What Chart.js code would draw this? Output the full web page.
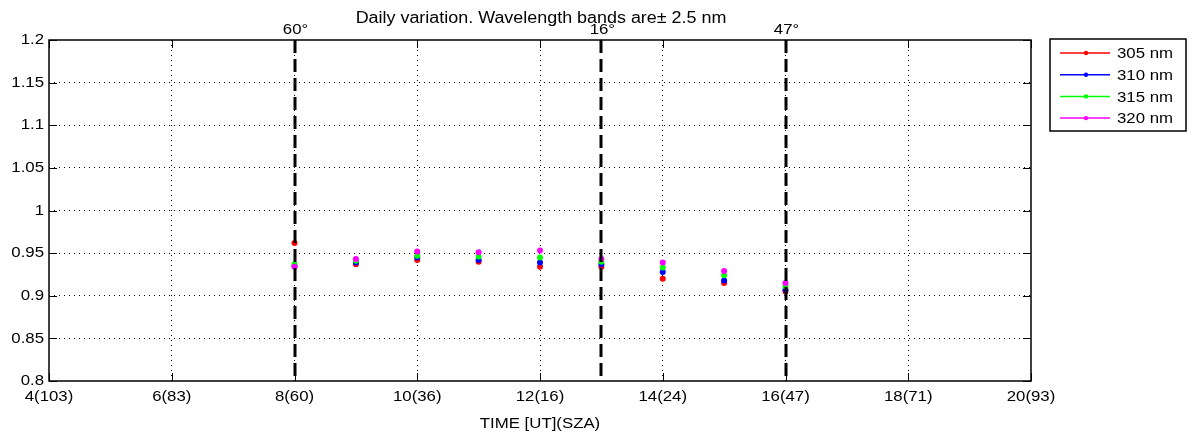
<!DOCTYPE html>
<html>
<head>
<meta charset="utf-8">
<script src="https://cdn.jsdelivr.net/npm/chart.js@4"></script>
<style>
  html, body { margin: 0; padding: 0; background: #fff; }
  #wrap { width: 1192px; height: 432px; }
</style>
</head>
<body>
<div id="wrap"><canvas id="myChart" width="1192" height="432"></canvas></div>
<script>
// hourly measurements, UT
const hours = [8, 9, 10, 11, 12, 13, 14, 15, 16]
const r305 = [0.962, 0.937, 0.942, 0.940, 0.934, 0.934, 0.920, 0.915, 0.905]
const r310 = [0.935, 0.939, 0.945, 0.942, 0.939, 0.937, 0.928, 0.918, 0.907]
const r315 = [0.937, 0.941, 0.947, 0.946, 0.945, 0.940, 0.933, 0.924, 0.911]
const r320 = [0.934, 0.943, 0.952, 0.951, 0.953, 0.943, 0.939, 0.929, 0.915]

const xTicks = [4, 6, 8, 10, 12, 14, 16, 18, 20]
const xTickLabels = ['4(103)', '6(83)', '8(60)', '10(36)', '12(16)', '14(24)', '16(47)', '18(71)', '20(93)']
const yTicks = [0.8, 0.85, 0.9, 0.95, 1, 1.05, 1.1, 1.15, 1.2]
const yTickLabels = ['0.8', '0.85', '0.9', '0.95', '1', '1.05', '1.1', '1.15', '1.2']

// dashed markers with solar zenith angle
const markHours = [8, 13, 16]
const markLabels = ['60°', '16°', '47°']

const seriesNames = ['305 nm', '310 nm', '315 nm', '320 nm']
const seriesColors = ['#ff0000', '#0000ff', '#00ff00', '#ff00ff']
const seriesValues = [r305, r310, r315, r320]

const FONT = 'Liberation Sans, Arial, Helvetica, sans-serif'
const SX = 1.12 // text in the original is a bit wide

function txt(ctx, s, x, y, align, base) {
  ctx.save()
  ctx.translate(x, y)
  ctx.scale(SX, 1)
  ctx.textAlign = align
  ctx.textBaseline = base
  ctx.fillText(s, 0, 0)
  ctx.restore()
}

// matlab style frame, inward ticks, markers, labels, legend
const matlabPlugin = {
  id: 'matlab',
  afterDatasetsDraw(chart) {
    const ctx = chart.ctx
    const a = chart.chartArea
    const xs = chart.scales.x, ys = chart.scales.y
    ctx.save()

    // dashed vertical markers
    ctx.strokeStyle = '#000'
    ctx.lineWidth = 3
    ctx.setLineDash([13, 6])
    markHours.forEach((h) => {
      const px = Math.round(xs.getPixelForValue(h))
      ctx.beginPath()
      ctx.moveTo(px, a.top)
      ctx.lineTo(px, a.bottom)
      ctx.stroke()
    })
    ctx.setLineDash([])

    // frame
    ctx.lineWidth = 1.5
    ctx.strokeRect(a.left, a.top, a.right - a.left, a.bottom - a.top)

    // inward ticks
    ctx.lineWidth = 1
    const tl = 8
    xTicks.forEach((v) => {
      const px = Math.round(xs.getPixelForValue(v)) + 0.5
      ctx.beginPath()
      ctx.moveTo(px, a.bottom); ctx.lineTo(px, a.bottom - tl)
      ctx.moveTo(px, a.top); ctx.lineTo(px, a.top + tl)
      ctx.stroke()
    })
    yTicks.forEach((v) => {
      const py = Math.round(ys.getPixelForValue(v)) + 0.5
      ctx.beginPath()
      ctx.moveTo(a.left, py); ctx.lineTo(a.left + tl, py)
      ctx.moveTo(a.right, py); ctx.lineTo(a.right - tl, py)
      ctx.stroke()
    })

    // tick labels
    ctx.fillStyle = '#000'
    ctx.font = '15px ' + FONT
    xTicks.forEach((v, i) => txt(ctx, xTickLabels[i], xs.getPixelForValue(v), a.bottom + 8, 'center', 'top'))
    yTicks.forEach((v, i) => txt(ctx, yTickLabels[i], a.left - 5, ys.getPixelForValue(v), 'right', 'middle'))

    // marker labels, title, axis title
    markHours.forEach((h, i) => txt(ctx, markLabels[i], xs.getPixelForValue(h) + 1, a.top - 6, 'center', 'alphabetic'))
    const cx = (a.left + a.right) / 2
    ctx.font = '16px ' + FONT
    txt(ctx, 'Daily variation. Wavelength bands are\u00b1 2.5 nm', cx + 1, 23, 'center', 'alphabetic')
    ctx.font = '15px ' + FONT
    txt(ctx, 'TIME [UT](SZA)', cx, 428, 'center', 'alphabetic')

    // legend
    const lx = 1050, ly = 39, lw = 136, lh = 92
    ctx.fillStyle = '#fff'
    ctx.fillRect(lx, ly, lw, lh)
    ctx.strokeStyle = '#000'
    ctx.lineWidth = 1.5
    ctx.strokeRect(lx, ly, lw, lh)
    ctx.font = '15px ' + FONT
    seriesNames.forEach((name, i) => {
      const yy = ly + 14 + i * 21.7
      ctx.strokeStyle = seriesColors[i]
      ctx.lineWidth = 1.5
      ctx.beginPath()
      ctx.moveTo(lx + 10, yy); ctx.lineTo(lx + 60, yy)
      ctx.stroke()
      ctx.fillStyle = seriesColors[i]
      ctx.beginPath()
      ctx.arc(lx + 36, yy, 2.2, 0, Math.PI * 2)
      ctx.fill()
      ctx.fillStyle = '#000'
      txt(ctx, name, lx + 67, yy + 1, 'left', 'middle')
    })
    ctx.restore()
  }
}

const datasets = seriesNames.map((name, i) => ({
  label: name,
  data: hours.map((h, j) => ({ x: h, y: seriesValues[i][j] })),
  borderColor: seriesColors[i],
  backgroundColor: seriesColors[i],
  showLine: false,
  order: seriesNames.length - i, // later series on top, like matlab
  pointRadius: 3,
  pointBorderWidth: 0,
  pointHoverRadius: 3
}))

const hideEdge = (lo, hi) => (c) => (c.tick && (c.tick.value === lo || c.tick.value === hi)) ? 'rgba(0,0,0,0)' : '#000'

const ctx = document.getElementById('myChart').getContext('2d')
const myChart = new Chart(ctx, {
  type: 'scatter',
  data: { datasets: datasets },
  options: {
    responsive: false,
    animation: false,
    events: [],
    layout: { padding: { top: 40, right: 161, left: 0, bottom: 0 } },
    plugins: {
      legend: { display: false },
      title: { display: false },
      tooltip: { enabled: false }
    },
    scales: {
      x: {
        type: 'linear',
        min: 4, max: 20,
        afterBuildTicks: (s) => { s.ticks = xTicks.map((v) => ({ value: v })) },
        afterFit: (s) => { s.height = 51 },
        grid: { color: hideEdge(4, 20), lineWidth: 1, drawTicks: false },
        border: { display: false, dash: [1, 4] },
        ticks: { display: false, autoSkip: false }
      },
      y: {
        min: 0.8, max: 1.2,
        afterBuildTicks: (s) => { s.ticks = yTicks.map((v) => ({ value: v })) },
        afterFit: (s) => { s.width = 49 },
        grid: { color: hideEdge(0.8, 1.2), lineWidth: 1, drawTicks: false },
        border: { display: false, dash: [1, 4] },
        ticks: { display: false, autoSkip: false }
      }
    }
  },
  plugins: [matlabPlugin]
})
</script>
</body>
</html>
